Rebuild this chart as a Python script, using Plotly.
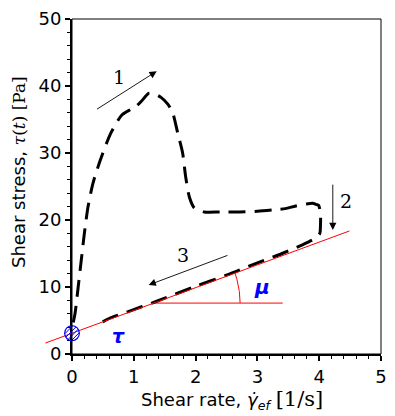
import numpy as np
import plotly.graph_objects as go

# Measured curve (shear rate [1/s], shear stress [Pa])
rate = [0.02, 0.05, 0.10, 0.15, 0.20, 0.26, 0.34, 0.46, 0.63, 0.81, 0.95, 1.03, 1.13, 1.24,
        1.34, 1.44, 1.55, 1.63, 1.71, 1.79, 1.84, 1.90, 1.98, 2.14, 2.40, 2.71, 3.00, 3.25,
        3.45, 3.62, 3.80, 3.89, 3.96, 3.99, 4.02, 4.02, 4.01, 3.94, 3.73, 3.40, 3.00,
        2.51, 2.00, 1.35, 0.90, 0.60, 0.37]
stress = [4.7, 6.1, 10.0, 14.0, 18.0, 22.0, 25.5, 29.0, 33.0, 35.7, 36.5, 36.9, 37.8, 38.9,
          38.8, 38.3, 37.3, 36.0, 33.0, 30.0, 26.4, 23.4, 21.8, 21.2, 21.2, 21.2, 21.3, 21.5,
          21.7, 22.1, 22.4, 22.5, 22.3, 22.2, 21.0, 19.0, 18.0, 17.3, 16.3, 15.0, 13.6,
          11.8, 10.1, 7.8, 6.3, 5.3, 4.1]

# Bingham fit: tau = tau0 + mu * rate
tau0 = 3.1
mu = 3.4
fit_x = [-0.43, 4.49]
flat_y = 7.6
flat_x_end = 3.41

x_range = [0, 5]
y_range = [0, 50]
W, H = 395, 416
ML, MR, MT, MB = 72, 8, 19, 62
PW, PH = W - ML - MR, H - MT - MB
px_x = PW / (x_range[1] - x_range[0])
px_y = PH / (y_range[1] - y_range[0])


def to_paper(x, y):
    return ((x - x_range[0]) / (x_range[1] - x_range[0]),
            (y - y_range[0]) / (y_range[1] - y_range[0]))


def px_to_paper(px, py):
    return ((px - ML) / PW, 1 - (py - MT) / PH)


fig = go.Figure()

# fitted line (extends left of the axis, so drawn in paper coordinates)
p0 = to_paper(fit_x[0], tau0 + mu * fit_x[0])
p1 = to_paper(fit_x[1], tau0 + mu * fit_x[1])
fig.add_shape(type="line", xref="paper", yref="paper", x0=p0[0], y0=p0[1], x1=p1[0], y1=p1[1],
              line=dict(color="red", width=1))

# horizontal reference line
x_int = (flat_y - tau0) / mu
fig.add_trace(go.Scatter(x=[x_int, flat_x_end], y=[flat_y, flat_y], mode="lines",
                         line=dict(color="red", width=1), hoverinfo="skip"))
# angle arc (round in pixel space)
r_px = 88
ang = np.arctan(mu * px_y / px_x)
th = np.linspace(0, ang, 30)
fig.add_trace(go.Scatter(x=x_int + r_px * np.cos(th) / px_x, y=flat_y + r_px * np.sin(th) / px_y,
                         mode="lines", line=dict(color="red", width=1), hoverinfo="skip"))

# measured curve
fig.add_trace(go.Scatter(x=rate, y=stress, mode="lines",
                         line=dict(color="black", width=3, dash="17px,9px", shape="spline",
                                   smoothing=0.7),
                         hoverinfo="skip"))

# hatched circle at the yield stress (paper coordinates so it is not clipped)
rc = 7.5
cx, cy = to_paper(0, tau0)
rxp, ryp = rc / PW, rc / PH
fig.add_shape(type="circle", xref="paper", yref="paper",
              x0=cx - rxp, x1=cx + rxp, y0=cy - ryp, y1=cy + ryp,
              line=dict(color="blue", width=1.2))
path = ""
for d in [-4.8, -1.6, 1.6, 4.8]:
    h = np.sqrt(rc ** 2 - d ** 2)
    nx, ny = d / np.sqrt(2), -d / np.sqrt(2)
    ax_, ay_ = nx - h / np.sqrt(2), ny - h / np.sqrt(2)
    bx_, by_ = nx + h / np.sqrt(2), ny + h / np.sqrt(2)
    path += f"M{cx + ax_ / PW:.5f},{cy + ay_ / PH:.5f} L{cx + bx_ / PW:.5f},{cy + by_ / PH:.5f} "
fig.add_shape(type="path", xref="paper", yref="paper", path=path,
              line=dict(color="blue", width=1))

serif = "DejaVu Serif"
sans = "DejaVu Sans"

arrows = [
    (0.38, 36.4, 1.37, 42.2),
    (4.22, 25.5, 4.22, 18.5),
    (2.54, 14.8, 1.24, 10.3),
]
for (x0, y0, x1, y1) in arrows:
    fig.add_annotation(x=x1, y=y1, ax=x0, ay=y0, axref="x", ayref="y", xref="x", yref="y",
                       text="", showarrow=True, arrowhead=2, arrowsize=1.6, arrowwidth=0.9,
                       arrowcolor="black")

labels = [("1", 0.76, 41.3), ("2", 4.44, 22.8), ("3", 1.79, 14.8)]
for t, x, y in labels:
    fig.add_annotation(x=x, y=y, text=t, showarrow=False,
                       font=dict(family=serif, size=19, color="black"))

fig.add_annotation(x=3.08, y=10.0, text="<b><i>μ</i></b>", showarrow=False,
                   font=dict(family=sans, size=20, color="blue"))
fig.add_annotation(x=0.75, y=2.7, text="<b><i>τ</i></b>", showarrow=False,
                   font=dict(family=sans, size=19, color="blue"))

# axis titles
xt = px_to_paper(235, 400)
fig.add_annotation(xref="paper", yref="paper", x=xt[0], y=xt[1], showarrow=False,
                   xanchor="center", yanchor="middle",
                   text="Shear rate, <i>γ̇</i><sub><i>ef</i></sub> "
                        "<span style='font-family:DejaVu Serif;font-size:21px'>[1/s]</span>",
                   font=dict(family=sans, size=18, color="black"))
yt = px_to_paper(18, 172)
fig.add_annotation(xref="paper", yref="paper", x=yt[0], y=yt[1], showarrow=False,
                   xanchor="center", yanchor="middle", textangle=-90,
                   text="Shear stress, <span style='font-family:DejaVu Serif;font-size:17px'>"
                        "<i>τ</i>(<i>t</i>) [Pa]</span>",
                   font=dict(family=sans, size=18, color="black"))

# frame (thin top/right)
fig.add_shape(type="rect", xref="paper", yref="paper", x0=0, y0=0, x1=1, y1=1,
              line=dict(color="black", width=1))

fig.update_layout(
    width=W, height=H, margin=dict(l=ML, r=MR, t=MT, b=MB),
    paper_bgcolor="white", plot_bgcolor="white", showlegend=False,
    font=dict(family=sans, size=17, color="black"),
    xaxis=dict(range=x_range, dtick=1, showgrid=False, zeroline=False,
               showline=True, linecolor="black", linewidth=2,
               ticks="outside", ticklen=5, tickwidth=1.5, tickcolor="black",
               minor=dict(dtick=0.2, ticks="outside", ticklen=3, tickwidth=1, tickcolor="black"),
               tickfont=dict(size=18)),
    yaxis=dict(range=y_range, dtick=10, showgrid=False, zeroline=False,
               showline=True, linecolor="black", linewidth=2,
               ticks="outside", ticklen=5, tickwidth=1.5, tickcolor="black",
               minor=dict(dtick=2, ticks="outside", ticklen=3, tickwidth=1, tickcolor="black"),
               tickfont=dict(size=18)),
)

fig.write_html("out.html")
